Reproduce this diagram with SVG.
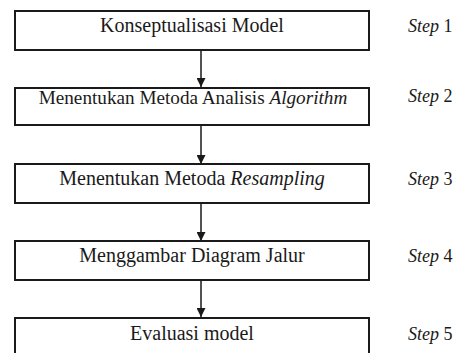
<svg xmlns="http://www.w3.org/2000/svg" width="462" height="353" viewBox="0 0 462 353">
<defs>
<style>
.box{fill:#fff;stroke:#1a1a1a;stroke-width:2}
.t{font-family:"Liberation Serif","Times New Roman",serif;font-size:20px;fill:#1a1a1a;text-anchor:middle}
.s{font-family:"Liberation Serif","Times New Roman",serif;font-size:18px;fill:#1a1a1a}
.c{stroke:#1a1a1a;stroke-width:1.5;fill:none}
</style>
<marker id="ah" viewBox="0 0 10 10" refX="10" refY="5" markerWidth="10" markerHeight="9" markerUnits="userSpaceOnUse" orient="auto">
<path d="M0,0 L10,5 L0,10 z" fill="#1a1a1a"/>
</marker>
</defs>
<rect width="462" height="353" fill="#fff"/>
<g id="connectors">
<line class="c" x1="201" y1="51" x2="201" y2="87" marker-end="url(#ah)"/>
<line class="c" x1="201" y1="126" x2="201" y2="164" marker-end="url(#ah)"/>
<line class="c" x1="201" y1="203" x2="201" y2="241" marker-end="url(#ah)"/>
<line class="c" x1="201" y1="280" x2="201" y2="317" marker-end="url(#ah)"/>
</g>
<g id="n1"><rect class="box" x="15" y="11" width="354" height="39"/><text class="t" x="192" y="32">Konseptualisasi Model</text><text class="s" x="408" y="32"><tspan font-style="italic">Step</tspan> 1</text></g>
<g id="n2"><rect class="box" x="15" y="88" width="354" height="37"/><text class="t" x="193" y="104" style="font-size:19.2px">Menentukan Metoda Analisis <tspan font-style="italic">Algorithm</tspan></text><text class="s" x="408" y="102"><tspan font-style="italic">Step</tspan> 2</text></g>
<g id="n3"><rect class="box" x="15" y="164" width="354" height="39"/><text class="t" x="192" y="185">Menentukan Metoda <tspan font-style="italic">Resampling</tspan></text><text class="s" x="408" y="185"><tspan font-style="italic">Step</tspan> 3</text></g>
<g id="n4"><rect class="box" x="15" y="241" width="354" height="39"/><text class="t" x="192" y="262">Menggambar Diagram Jalur</text><text class="s" x="408" y="262"><tspan font-style="italic">Step</tspan> 4</text></g>
<g id="n5"><rect class="box" x="15" y="318" width="354" height="40"/><text class="t" x="192" y="340">Evaluasi model</text><text class="s" x="408" y="340"><tspan font-style="italic">Step</tspan> 5</text></g>
</svg>
